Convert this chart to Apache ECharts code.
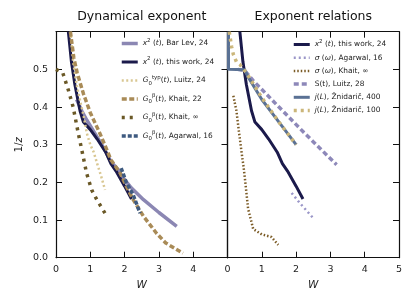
<!DOCTYPE html>
<html><head><meta charset="utf-8">
<script src="https://cdn.jsdelivr.net/npm/echarts@6/dist/echarts.min.js"></script>
<style>html,body{margin:0;padding:0;background:#fff}#c{width:415px;height:308px}</style>
</head><body><div id="c"></div>
<script>
// ---- data (W, 1/z) ----
const barLev = [[0.6,0.42],[0.75,0.39],[0.9,0.365],[1.1,0.335],[1.4,0.29],[1.6,0.255],[1.8,0.235],[2.0,0.207],[2.2,0.185],[2.55,0.154],[3.0,0.12],[3.52,0.083]];
const thisWork = [[0.36,0.6],[0.45,0.52],[0.55,0.46],[0.7,0.39],[0.8,0.36],[1.0,0.34],[1.2,0.315],[1.45,0.28],[1.6,0.25],[1.75,0.23],[2.0,0.19],[2.2,0.156]];
const luitzTyp = [[0.42,0.6],[0.5,0.52],[0.6,0.46],[0.72,0.41],[0.82,0.37],[0.9,0.33],[1.0,0.3],[1.1,0.28],[1.2,0.25],[1.32,0.215],[1.43,0.18]];
const khait22 = [[0.42,0.6],[0.52,0.53],[0.62,0.49],[0.8,0.435],[1.0,0.385],[1.28,0.33],[1.48,0.287],[1.6,0.26],[1.87,0.225],[2.05,0.19],[2.25,0.154],[2.55,0.11],[2.93,0.065],[3.2,0.039],[3.7,0.012]];
const khaitInfG = [[0.0,0.5],[0.2,0.49],[0.36,0.445],[0.5,0.4],[0.65,0.33],[0.75,0.287],[0.89,0.225],[1.04,0.18],[1.19,0.154],[1.43,0.118]];
const agarwalG = [[1.9,0.238],[2.05,0.2],[2.25,0.167],[2.45,0.118]];
const sigmaAgarwal = [[1.87,0.172],[2.1,0.146],[2.5,0.105]];
const sigmaKhait = [[0.17,0.43],[0.26,0.39],[0.34,0.33],[0.41,0.28],[0.47,0.24],[0.52,0.2],[0.6,0.13],[0.75,0.076],[1.0,0.062],[1.28,0.055],[1.48,0.034]];
const sLuitz = [[0.3,0.5],[0.5,0.497],[0.75,0.47],[1.5,0.4],[2.2,0.335],[2.7,0.29],[3.18,0.247]];
const zn400 = [[0.03,0.6],[0.03,0.5],[0.5,0.499],[0.6,0.48],[1.0,0.42],[1.5,0.36],[2.0,0.3]];
const zn100 = [[0.05,0.6],[0.12,0.56],[0.17,0.54],[0.26,0.52],[0.36,0.513],[0.47,0.5],[0.6,0.484],[1.0,0.425],[1.5,0.36],[2.0,0.3]];
const yTicks = [0.0,0.1,0.2,0.3,0.4,0.5];
const xTicksLeft = [0,1,2,3,4];
const xTicksRight = [0,1,2,3,4,5];

const N = {
  barLev: 'x2 (t), Bar Lev, 24',
  thisWork: 'x2 (t), this work, 24',
  luitzTyp: 'G0typ(t), Luitz, 24',
  khait22: 'G0b(t), Khait, 22',
  khaitInfG: 'G0b(t), Khait, inf',
  agarwalG: 'G0b(t), Agarwal, 16',
  sigmaAgarwal: 'sigma (omega), Agarwal, 16',
  sigmaKhait: 'sigma (omega), Khait, inf',
  sLuitz: 'S(t), Luitz, 28',
  zn400: 'j(L), Znidaric, 400',
  zn100: 'j(L), Znidaric, 100'
};
const RICH = {};
RICH[N.barLev] = '{i|x}{s|2}{n| (}{i|t}{n|), Bar Lev, 24}';
RICH[N.thisWork] = '{i|x}{s|2}{n| (}{i|t}{n|), this work, 24}';
RICH[N.luitzTyp] = '{i|G}{b|0}{s|typ}{n|(}{i|t}{n|), Luitz, 24}';
RICH[N.khait22] = '{i|G}{b|0}{s|β}{n|(}{i|t}{n|), Khait, 22}';
RICH[N.khaitInfG] = '{i|G}{b|0}{s|β}{n|(}{i|t}{n|), Khait, ∞}';
RICH[N.agarwalG] = '{i|G}{b|0}{s|β}{n|(}{i|t}{n|), Agarwal, 16}';
RICH[N.sigmaAgarwal] = '{i|σ}{n| (}{i|ω}{n|), Agarwal, 16}';
RICH[N.sigmaKhait] = '{i|σ}{n| (}{i|ω}{n|), Khait, ∞}';
RICH[N.sLuitz] = '{n|S(t), Luitz, 28}';
RICH[N.zn400] = '{i|j}{n|(}{i|L}{n|), Žnidarič, 400}';
RICH[N.zn100] = '{i|j}{n|(}{i|L}{n|), Žnidarič, 100}';

// styles: [color, width, dash]
const ST = {};
ST[N.barLev] = ['#8b87b3', 3.5, 'solid'];
ST[N.thisWork] = ['#1b1a4b', 3, 'solid'];
ST[N.luitzTyp] = ['#d9c792', 2.5, [2, 2.5]];
ST[N.khait22] = ['#a98b57', 3.5, [5, 2.5]];
ST[N.khaitInfG] = ['#6a5826', 3.5, [3, 5]];
ST[N.agarwalG] = ['#3e5a80', 3.5, [4, 2]];
ST[N.sigmaAgarwal] = ['#9a96c8', 2.5, [2, 3]];
ST[N.sigmaKhait] = ['#7b5b26', 2.5, [1.5, 2]];
ST[N.sLuitz] = ['#8d88b9', 3.5, [5, 3]];
ST[N.zn400] = ['#5a7194', 3, 'solid'];
ST[N.zn100] = ['#cbb67a', 3.5, [3, 4]];

const FF = 'DejaVu Sans';
const FS = 7.4;
const rich = {
  n: {fontFamily: FF, fontSize: FS, color: '#222', lineHeight: 11, verticalAlign: 'middle'},
  i: {fontFamily: FF, fontSize: FS, fontStyle: 'italic', color: '#222', lineHeight: 11, verticalAlign: 'middle'},
  s: {fontFamily: FF, fontSize: 5.4, color: '#222', lineHeight: 11, verticalAlign: 'top'},
  b: {fontFamily: FF, fontSize: 5.4, color: '#222', lineHeight: 11, verticalAlign: 'bottom'}
};

function line(name, data, gi) {
  const s = ST[name];
  return {
    type: 'line', name: name, data: data, xAxisIndex: gi, yAxisIndex: gi,
    symbol: 'none', smooth: false, clip: true, animation: false,
    lineStyle: {color: s[0], width: s[1], type: s[2], cap: 'butt', join: 'round'},
    itemStyle: {color: s[0]}, emphasis: {disabled: true}
  };
}

const GL = 56, GW = 171.5, GT = 31.7, GH = 226;
function xAx(gi, pos, labels, ticks) {
  return {
    type: 'value', gridIndex: gi, position: pos, min: 0, max: 5, interval: 1,
    axisLine: {show: true, onZero: false, lineStyle: {color: '#111', width: 1.2}},
    axisTick: {show: true, inside: true, length: 6, lineStyle: {color: '#111', width: 1}},
    axisLabel: {show: labels, margin: 7, fontFamily: FF, fontSize: 9.5, color: '#222',
      formatter: v => ticks.indexOf(Math.round(v)) >= 0 ? String(Math.round(v)) : ''},
    splitLine: {show: false},
    name: labels ? 'W' : '', nameLocation: 'middle', nameGap: 22,
    nameTextStyle: {fontFamily: FF, fontSize: 10.5, fontStyle: 'italic', color: '#222'}
  };
}
function yAx(gi, pos, labels, ticks) {
  return {
    type: 'value', gridIndex: gi, position: pos, min: 0, max: 0.6, interval: 0.1,
    axisLine: {show: true, onZero: false, lineStyle: {color: '#111', width: 1.2}},
    axisTick: {show: ticks, inside: true, length: 6, lineStyle: {color: '#111', width: 1}},
    axisLabel: {show: labels, margin: 8, fontFamily: FF, fontSize: 9.5, color: '#222',
      formatter: v => yTicks.some(t => Math.abs(t - v) < 1e-6) ? v.toFixed(1) : ''},
    splitLine: {show: false},
    name: labels ? '{n|1/}{i|z}' : '', nameLocation: 'middle', nameGap: 32, nameRotate: 90,
    nameTextStyle: {rich: {
      n: {fontFamily: FF, fontSize: 10, color: '#222'},
      i: {fontFamily: FF, fontSize: 10, fontStyle: 'italic', color: '#222'}}}
  };
}

function legend(names, left, top, gap) {
  return {
    data: names.map(n => ({
      name: n,
      itemStyle: {opacity: 0, color: ST[n][0]},
      lineStyle: {color: ST[n][0], width: ST[n][1], type: ST[n][2], cap: 'butt', opacity: 1}
    })),
    orient: 'vertical', left: left, top: top,
    itemWidth: 16, itemHeight: 8, itemGap: gap, padding: 0, selectedMode: false,
    formatter: n => RICH[n],
    textStyle: {fontFamily: FF, fontSize: FS, color: '#222', lineHeight: 11, rich: rich}
  };
}

const chart = echarts.init(document.getElementById('c'), null, {renderer: 'canvas'});
chart.setOption({
  animation: false,
  backgroundColor: '#fff',
  title: [
    {text: 'Dynamical exponent', left: GL + GW / 2, top: 10, textAlign: 'center', padding: 0,
      textStyle: {fontFamily: FF, fontSize: 12.5, fontWeight: 'normal', color: '#111'}},
    {text: 'Exponent relations', left: GL + GW + GW / 2, top: 10, textAlign: 'center', padding: 0,
      textStyle: {fontFamily: FF, fontSize: 12.5, fontWeight: 'normal', color: '#111'}}
  ],
  grid: [
    {left: GL, top: GT, width: GW, height: GH, containLabel: false},
    {left: GL + GW, top: GT, width: GW, height: GH, containLabel: false}
  ],
  xAxis: [
    xAx(0, 'bottom', true, xTicksLeft),
    xAx(1, 'bottom', true, xTicksRight),
    xAx(0, 'top', false, []),
    xAx(1, 'top', false, [])
  ],
  yAxis: [
    yAx(0, 'left', true, true),
    yAx(1, 'left', false, false),
    yAx(0, 'right', false, true),
    yAx(1, 'right', false, true)
  ],
  legend: [
    legend([N.barLev, N.thisWork, N.luitzTyp, N.khait22, N.khaitInfG, N.agarwalG], 120, 38, 7.5),
    legend([N.thisWork, N.sigmaAgarwal, N.sigmaKhait, N.sLuitz, N.zn400, N.zn100], 292, 39, 2.2)
  ],
  series: [
    line(N.barLev, barLev, 0),
    line(N.thisWork, thisWork, 0),
    line(N.luitzTyp, luitzTyp, 0),
    line(N.khait22, khait22, 0),
    line(N.khaitInfG, khaitInfG, 0),
    line(N.agarwalG, agarwalG, 0),
    line(N.thisWork, thisWork, 1),
    line(N.sigmaAgarwal, sigmaAgarwal, 1),
    line(N.sigmaKhait, sigmaKhait, 1),
    line(N.sLuitz, sLuitz, 1),
    line(N.zn400, zn400, 1),
    line(N.zn100, zn100, 1)
  ]
});
</script></body></html>
